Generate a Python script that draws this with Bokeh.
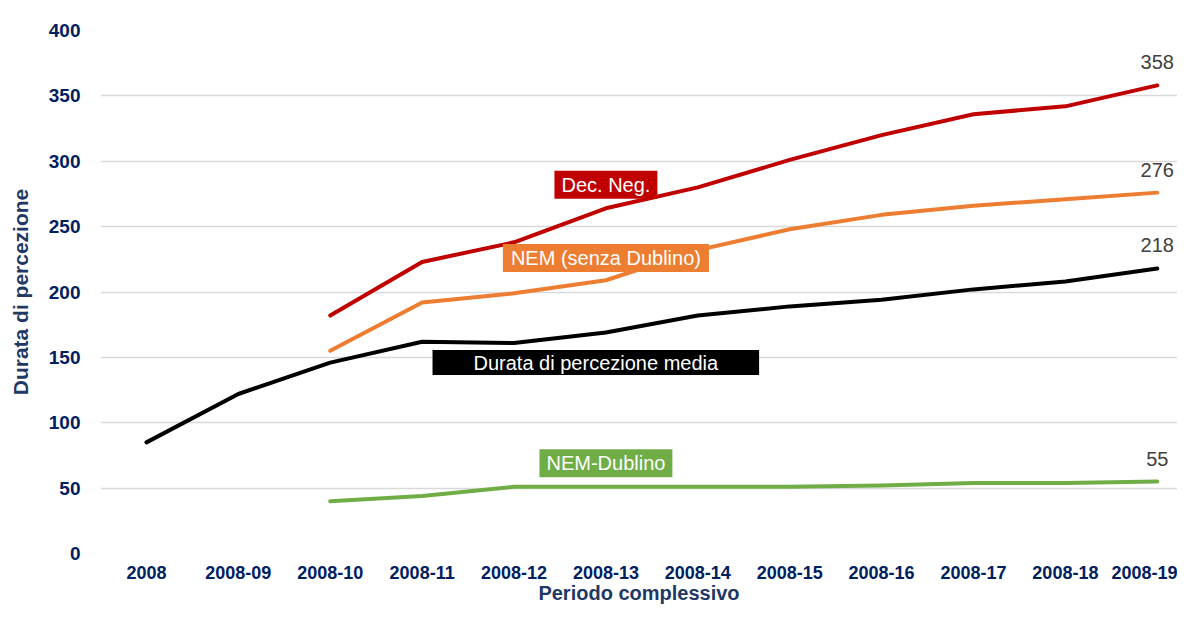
from bokeh.plotting import figure
from bokeh.models import Range1d, Label, FixedTicker, ColumnDataSource
from bokeh.embed import file_html
from bokeh.resources import INLINE
from bokeh.core.properties import value

periods = ["2008", "2008-09", "2008-10", "2008-11", "2008-12", "2008-13",
           "2008-14", "2008-15", "2008-16", "2008-17", "2008-18", "2008-19"]
media = [85, 122, 146, 162, 161, 169, 182, 189, 194, 202, 208, 218]
dec_neg = [None, None, 182, 223, 238, 264, 280, 301, 320, 336, 342, 358]
nem_senza = [None, None, 155, 192, 199, 209, 232, 248, 259, 266, 271, 276]
nem_dublino = [None, None, 40, 44, 51, 51, 51, 51, 52, 54, 54, 55]
y_ticks = [0, 50, 100, 150, 200, 250, 300, 350, 400]

FONT = "Liberation Sans"
NAVY = "#002060"
TITLE = "#1F3864"

p = figure(width=1177, height=606, output_backend="svg", toolbar_location=None,
           x_range=Range1d(-0.5, 11.22), y_range=Range1d(0, 400),
           min_border_left=100, min_border_right=0, min_border_top=30, min_border_bottom=46)
p.outline_line_color = None
p.background_fill_color = "white"
p.border_fill_color = "white"

idx = list(range(len(periods)))

def seg(vals):
    xs = [i for i, v in zip(idx, vals) if v is not None]
    ys = [v for v in vals if v is not None]
    return xs, ys

series = [(dec_neg, "#C00000"), (nem_senza, "#ED7D31"), (media, "#000000"), (nem_dublino, "#70AD47")]
for vals, col in series:
    xs, ys = seg(vals)
    p.line(xs, ys, line_color=col, line_width=4, line_cap="round", line_join="round")

# end value labels
last_x = [idx[-1]] * 4
last_y = [dec_neg[-1], nem_senza[-1], media[-1], nem_dublino[-1]]
src = ColumnDataSource(dict(x=last_x, y=last_y, t=[str(v) for v in last_y]))
p.text(x="x", y="y", text="t", source=src, text_align="center", text_baseline="middle",
       y_offset=-23, text_color="#404040", text_font=value(FONT), text_font_size="20px")

# series name boxes; padding = (left, right, top, bottom)
boxes = [
    ("Dec. Neg.", 5.0, 282, "#C00000", (7, 7, 3, 3)),
    ("NEM (senza Dublino)", 5.0, 226, "#ED7D31", (8, 8, 3, 3)),
    ("Durata di percezione media", 4.89, 146, "#000000", (41, 41, 2, 1)),
    ("NEM-Dublino", 5.0, 69, "#70AD47", (7, 7, 3, 3)),
]
for txt, bx, by, col, pad in boxes:
    p.add_layout(Label(x=bx, y=by, text=txt, text_align="center", text_baseline="middle",
                       text_color="white", text_font=FONT, text_font_size="20px",
                       background_fill_color=col, padding=pad))

# axes
p.xaxis.ticker = FixedTicker(ticks=idx)
p.xaxis.major_label_overrides = {i: s for i, s in enumerate(periods)}
p.yaxis.ticker = FixedTicker(ticks=y_ticks)
for ax in (p.xaxis, p.yaxis):
    ax.axis_line_color = None
    ax.major_tick_line_color = None
    ax.minor_tick_line_color = None
    ax.major_label_text_font = FONT
    ax.major_label_text_font_style = "bold"
    ax.major_label_text_color = NAVY
    ax.axis_label_text_font = FONT
    ax.axis_label_text_font_style = "bold"
    ax.axis_label_text_color = TITLE
p.xaxis.axis_label_text_font_size = "20px"
p.yaxis.axis_label_text_font_size = "21px"
p.xaxis.major_label_text_font_size = "18px"
p.yaxis.major_label_text_font_size = "19px"
p.xaxis.axis_label = "Periodo complessivo"
p.yaxis.axis_label = "Durata di percezione"
p.xaxis.major_label_standoff = 6
p.xaxis.axis_label_standoff = 0
p.yaxis.major_label_standoff = 14
p.yaxis.axis_label_standoff = 14

p.xgrid.grid_line_color = None
p.ygrid.grid_line_color = "#D9D9D9"
p.ygrid.grid_line_width = 1.5

open("out.html", "w").write(file_html(p, INLINE))
